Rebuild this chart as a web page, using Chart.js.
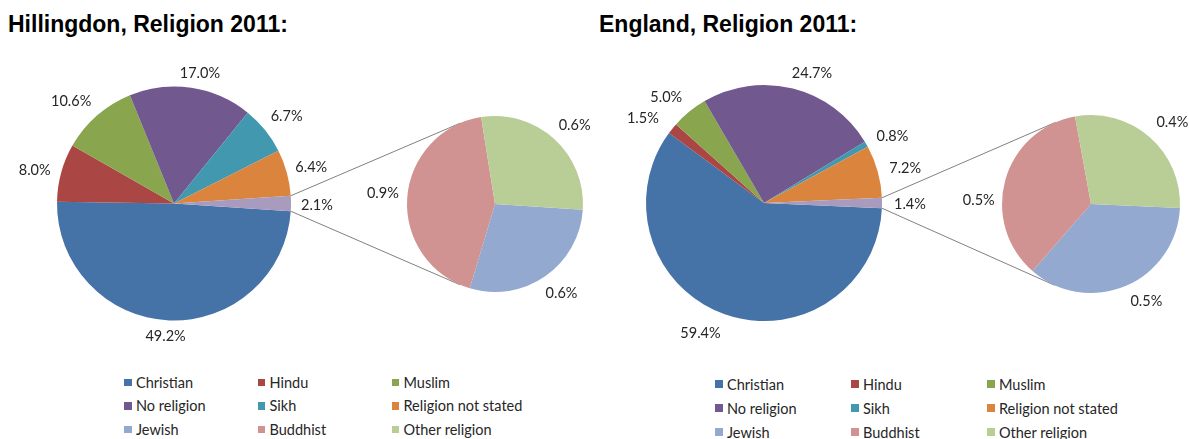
<!DOCTYPE html>
<html>
<head>
<meta charset="utf-8">
<title>Religion 2011</title>
<script src="https://cdn.jsdelivr.net/npm/chart.js@4.4.1/dist/chart.umd.min.js"></script>
<style>
  html, body { margin: 0; padding: 0; background: #fff; }
  body { position: relative; width: 1189px; height: 439px; overflow: hidden; }
  .title { position: absolute; top: 12.5px; margin: 0; font: bold 23px "Liberation Sans", Arial, sans-serif; line-height: 1; color: #000; white-space: nowrap; }
  .panel { position: absolute; top: 0; height: 360px; }
  .panel canvas { position: absolute; left: 0; top: 0; }
  .legend { position: absolute; display: grid; font: 14.5px Lato, sans-serif; color: #262626; }
  .legend .item { display: flex; align-items: center; white-space: nowrap; }
  .legend .box { width: 7.5px; height: 7.5px; margin-right: 4.5px; flex: none; }
</style>
</head>
<body>
<div class="title" style="left:8px">Hillingdon, Religion 2011:</div>
<div class="title" style="left:599px">England, Religion 2011:</div>

<div class="panel" style="left:0;width:594px">
  <canvas id="hil-main" width="594" height="360"></canvas>
  <canvas id="hil-detail" width="594" height="360"></canvas>
</div>
<div class="panel" style="left:594px;width:595px">
  <canvas id="eng-main" width="595" height="360"></canvas>
  <canvas id="eng-detail" width="595" height="360"></canvas>
</div>

<div class="legend" id="hil-legend" style="left:124px;top:370.5px;grid-template-columns:133.5px 134px auto;grid-auto-rows:23.5px"></div>
<div class="legend" id="eng-legend" style="left:715px;top:372px;grid-template-columns:136px 136px auto;grid-auto-rows:24px"></div>

<script>
// Census 2011 religion shares (%), main pie + breakdown of the small groups
const legendLabels = ['Christian', 'Hindu', 'Muslim', 'No religion', 'Sikh', 'Religion not stated', 'Jewish', 'Buddhist', 'Other religion'];
const mainLabels = ['Christian', 'Hindu', 'Muslim', 'No religion', 'Sikh', 'Religion not stated', 'Other'];
const detailLabels = ['Jewish', 'Buddhist', 'Other religion'];

const hillingdonMain = [49.2, 8.0, 10.6, 17.0, 6.7, 6.4, 2.1];
const hillingdonDetail = [0.6, 0.9, 0.6];
const englandMain = [59.4, 1.5, 5.0, 24.7, 0.8, 7.2, 1.4];
const englandDetail = [0.5, 0.5, 0.4];

const mainColours = ['#4572A7', '#AA4643', '#89A54E', '#71588F', '#4198AF', '#DB843D', '#A99BBD'];
const detailColours = ['#93A9CF', '#D19392', '#B9CD96'];
const legendColours = mainColours.slice(0, 6).concat(detailColours);

const LABEL_FONT = '14.5px Lato, sans-serif';

// label tweaks (px) where the "best fit" placement moved them off the slice middle
const panels = [
    {
        main: 'hil-main', detail: 'hil-detail', legend: 'hil-legend',
        mainData: hillingdonMain, detailData: hillingdonDetail,
        mainPie: { cx: 174, cy: 203.5, r: 117 },
        detailPie: { cx: 495, cy: 204, r: 88 },
        mainNudge: [[-3, 0], [-2, 4], [-8, 6], [6, 4], [2, 2], [0, 1], [2, 1.5]],
        detailNudge: [[3, -2], [0, -3], [4, 4]]
    },
    {
        main: 'eng-main', detail: 'eng-detail', legend: 'eng-legend',
        mainData: englandMain, detailData: englandDetail,
        mainPie: { cx: 170, cy: 203, r: 118 },
        detailPie: { cx: 497, cy: 204, r: 89 },
        mainNudge: [[-17, -1], [-10, 5], [-8, 4], [14, 4], [4, 5], [3, 4], [4, 1]],
        detailNudge: [[12, -4], [-2, 27], [7, 4]]
    }
];

function outsideLabels(nudges){
    return {
        id: 'outsideLabels',
        afterDatasetsDraw(chart){
            const ctx = chart.ctx;
            const values = chart.data.datasets[0].data;
            ctx.save();
            ctx.font = LABEL_FONT;
            ctx.fillStyle = '#262626';
            ctx.textAlign = 'center';
            ctx.textBaseline = 'middle';
            chart.getDatasetMeta(0).data.forEach((arc, i) => {
                const text = values[i].toFixed(1) + '%';
                const mid = (arc.startAngle + arc.endAngle) / 2;
                const cos = Math.cos(mid), sin = Math.sin(mid);
                const w = ctx.measureText(text).width;
                const dist = arc.outerRadius + 8 + (w / 2) * Math.abs(cos) + 7.5 * Math.abs(sin);
                const n = nudges[i] || [0, 0];
                ctx.fillText(text, arc.x + cos * dist + n[0], arc.y + sin * dist + n[1]);
            });
            ctx.restore();
        }
    };
}

// tangent lines from the edges of the combined slice to the breakdown pie
function seriesLines(mainChart){
    return {
        id: 'seriesLines',
        beforeDatasetsDraw(chart){
            const ctx = chart.ctx;
            const arcs = mainChart.getDatasetMeta(0).data;
            const combined = arcs[arcs.length - 1];
            const d0 = chart.getDatasetMeta(0).data[0];
            const cx = d0.x, cy = d0.y, R = d0.outerRadius;
            ctx.save();
            ctx.strokeStyle = '#808080';
            ctx.lineWidth = 1;
            [combined.startAngle, combined.endAngle].forEach((a, k) => {
                const px = combined.x + combined.outerRadius * Math.cos(a);
                const py = combined.y + combined.outerRadius * Math.sin(a);
                const dx = px - cx, dy = py - cy;
                const base = Math.atan2(dy, dx);
                const alpha = Math.acos(R / Math.hypot(dx, dy));
                const t = k === 0 ? base + alpha : base - alpha;
                ctx.beginPath();
                ctx.moveTo(px, py);
                ctx.lineTo(cx + R * Math.cos(t), cy + R * Math.sin(t));
                ctx.stroke();
            });
            ctx.restore();
        }
    };
}

function pieOptions(canvas, pie, rotation){
    return {
        responsive: false,
        animation: false,
        devicePixelRatio: 1,
        events: [],
        rotation: rotation,
        layout: {
            padding: {
                left: pie.cx - pie.r,
                right: canvas.width - pie.cx - pie.r,
                top: pie.cy - pie.r,
                bottom: canvas.height - pie.cy - pie.r
            }
        },
        plugins: { legend: { display: false }, tooltip: { enabled: false }, title: { display: false } }
    };
}

function buildLegend(el){
    legendLabels.forEach((label, i) => {
        const item = document.createElement('div');
        item.className = 'item';
        const box = document.createElement('span');
        box.className = 'box';
        box.style.background = legendColours[i];
        item.appendChild(box);
        item.appendChild(document.createTextNode(label));
        el.appendChild(item);
    });
}

panels.forEach(p => {
    const mainCanvas = document.getElementById(p.main);
    const detailCanvas = document.getElementById(p.detail);
    // combined slice is centred on 3 o'clock, the breakdown pie starts at the same angle
    const combined = p.mainData[p.mainData.length - 1];
    const rotation = 90 + combined * 1.8;

    const mainChart = new Chart(mainCanvas, {
        type: 'pie',
        data: {
            labels: mainLabels,
            datasets: [{ data: p.mainData, backgroundColor: mainColours, borderWidth: 0, radius: p.mainPie.r }]
        },
        options: pieOptions(mainCanvas, p.mainPie, rotation),
        plugins: [outsideLabels(p.mainNudge)]
    });

    new Chart(detailCanvas, {
        type: 'pie',
        data: {
            labels: detailLabels,
            datasets: [{ data: p.detailData, backgroundColor: detailColours, borderWidth: 0, radius: p.detailPie.r }]
        },
        options: pieOptions(detailCanvas, p.detailPie, rotation),
        plugins: [seriesLines(mainChart), outsideLabels(p.detailNudge)]
    });

    buildLegend(document.getElementById(p.legend));
});
</script>
</body>
</html>
